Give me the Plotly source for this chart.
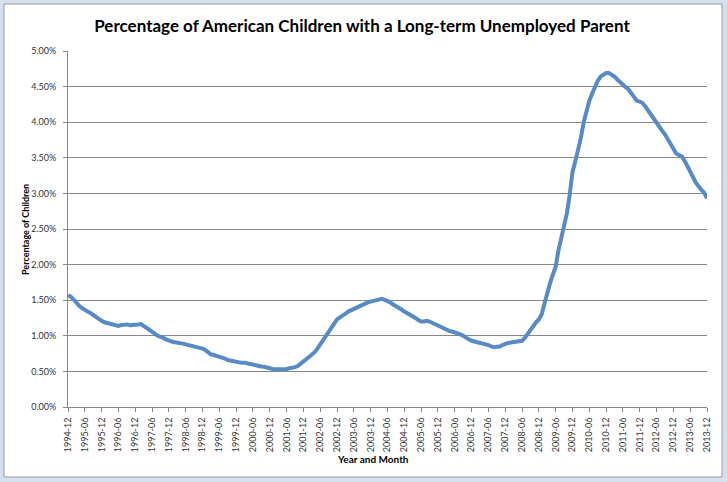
import plotly.graph_objects as go

# Monthly series, 1994-12 through 2013-12 (percent of children)
start_year, start_month = 1994, 12
values = [
    1.57,                                                                   # 1994-12
    1.55, 1.51, 1.46, 1.42, 1.39, 1.36, 1.34, 1.32, 1.29, 1.27, 1.23, 1.21,  # 1995
    1.19, 1.18, 1.17, 1.17, 1.15, 1.14, 1.15, 1.16, 1.16, 1.15, 1.15, 1.15,  # 1996
    1.16, 1.165, 1.14, 1.12, 1.09, 1.06, 1.03, 1.00, 0.99, 0.97, 0.95, 0.93, # 1997
    0.92, 0.91, 0.905, 0.905, 0.89, 0.88, 0.87, 0.86, 0.85, 0.84, 0.835, 0.82, # 1998
    0.80, 0.77, 0.74, 0.73, 0.72, 0.71, 0.70, 0.68, 0.66, 0.65, 0.64, 0.63,  # 1999
    0.63, 0.62, 0.62, 0.61, 0.60, 0.59, 0.58, 0.575, 0.57, 0.565, 0.55, 0.54, # 2000
    0.535, 0.53, 0.53, 0.53, 0.53, 0.535, 0.545, 0.55, 0.56, 0.575, 0.60, 0.64, # 2001
    0.67, 0.70, 0.73, 0.77, 0.82, 0.88, 0.94, 1.00, 1.07, 1.13, 1.19, 1.23,  # 2002
    1.26, 1.28, 1.31, 1.34, 1.36, 1.38, 1.40, 1.42, 1.445, 1.46, 1.47, 1.48, # 2003
    1.49, 1.50, 1.51, 1.52, 1.505, 1.49, 1.47, 1.44, 1.42, 1.40, 1.37, 1.34, # 2004
    1.32, 1.29, 1.27, 1.25, 1.22, 1.20, 1.20, 1.21, 1.20, 1.18, 1.17, 1.14,  # 2005
    1.12, 1.11, 1.09, 1.07, 1.06, 1.05, 1.04, 1.02, 1.00, 0.97, 0.95, 0.93,  # 2006
    0.92, 0.91, 0.90, 0.895, 0.89, 0.87, 0.85, 0.84, 0.845, 0.85, 0.87, 0.89, # 2007
    0.90, 0.905, 0.91, 0.91, 0.915, 0.93, 0.97, 1.03, 1.09, 1.15, 1.19, 1.23, # 2008
    1.30, 1.45, 1.62, 1.74, 1.86, 1.97, 2.20, 2.38, 2.55, 2.72, 2.98, 3.30,  # 2009
    3.45, 3.60, 3.78, 4.00, 4.17, 4.30, 4.40, 4.50, 4.58, 4.64, 4.67, 4.69,  # 2010
    4.69, 4.67, 4.64, 4.60, 4.56, 4.53, 4.49, 4.46, 4.41, 4.35, 4.30, 4.29,  # 2011
    4.27, 4.22, 4.16, 4.10, 4.04, 3.99, 3.93, 3.88, 3.83, 3.76, 3.69, 3.63,  # 2012
    3.56, 3.54, 3.52, 3.46, 3.39, 3.30, 3.23, 3.15, 3.09, 3.05, 3.01, 2.93,  # 2013
]

months = []
y, m = start_year, start_month
for _ in values:
    months.append(f"{y}-{m:02d}")
    m += 1
    if m > 12:
        m = 1
        y += 1

tick_labels = months[::6]
y_ticks = [0, 0.5, 1.0, 1.5, 2.0, 2.5, 3.0, 3.5, 4.0, 4.5, 5.0]
y_tick_text = [f"{v:.2f}%" for v in y_ticks]

title_text = "Percentage of American Children with a Long-term Unemployed Parent"
x_title = "Year and Month"
y_title = "Percentage of Children"

W, H = 727, 482
ML, MR, MT, MB = 68, 20, 51, 75
pw, ph = W - ML - MR, H - MT - MB

def px_x(p):
    return (p - ML) / pw

def px_y(p):
    return (H - MB - p) / ph

fig = go.Figure()
fig.add_trace(go.Scatter(
    x=months, y=values, mode="lines",
    line=dict(color="#568bc6", width=4),
    hoverinfo="x+y", showlegend=False,
))

font_family = "Lato, Calibri, sans-serif"
grey = "#878787"

fig.update_layout(
    width=W, height=H,
    margin=dict(l=ML, r=MR, t=MT, b=MB, autoexpand=False),
    paper_bgcolor="#d4e0f0",
    plot_bgcolor="white",
    font=dict(family=font_family, color="#333333", size=9),
    title=dict(text=f"<b>{title_text}</b>", x=362 / W, xanchor="center",
               y=1 - 26 / H, yanchor="middle", yref="container",
               font=dict(size=17, color="black", family=font_family)),
    xaxis=dict(
        type="category", range=[0, len(values) - 1],
        tickmode="array", tickvals=tick_labels, ticktext=tick_labels,
        tickangle=-90, tickfont=dict(size=9, color="#333333"),
        showgrid=False, showline=True, linecolor=grey, linewidth=1,
        ticks="outside", ticklen=4, tickcolor=grey, zeroline=False,
        ticklabelstandoff=2,
    ),
    yaxis=dict(
        range=[0, 5.0], tickmode="array", tickvals=y_ticks, ticktext=y_tick_text,
        tickfont=dict(size=9, color="#333333"),
        showgrid=True, gridcolor=grey, gridwidth=1,
        showline=True, linecolor=grey, linewidth=1,
        ticks="outside", ticklen=4, tickcolor=grey, zeroline=False,
        ticklabelstandoff=5,
    ),
    shapes=[dict(
        type="rect", xref="paper", yref="paper", layer="below",
        x0=px_x(4), x1=px_x(722), y0=px_y(477), y1=px_y(4),
        fillcolor="white", line=dict(color="#9a9a9a", width=1),
    )],
    annotations=[
        dict(text=f"<b>{y_title}</b>", xref="paper", yref="paper",
             x=px_x(25), y=px_y(230), textangle=-90, showarrow=False,
             xanchor="center", yanchor="middle",
             font=dict(size=9, color="black", family=font_family)),
        dict(text=f"<b>{x_title}</b>", xref="paper", yref="paper",
             x=px_x(373), y=px_y(459), showarrow=False,
             xanchor="center", yanchor="middle",
             font=dict(size=10, color="black", family=font_family)),
    ],
)

fig.write_html(
    "out.html",
    config={"displayModeBar": False},
    post_script="document.body.style.margin='0';document.body.style.overflow='hidden';",
)
